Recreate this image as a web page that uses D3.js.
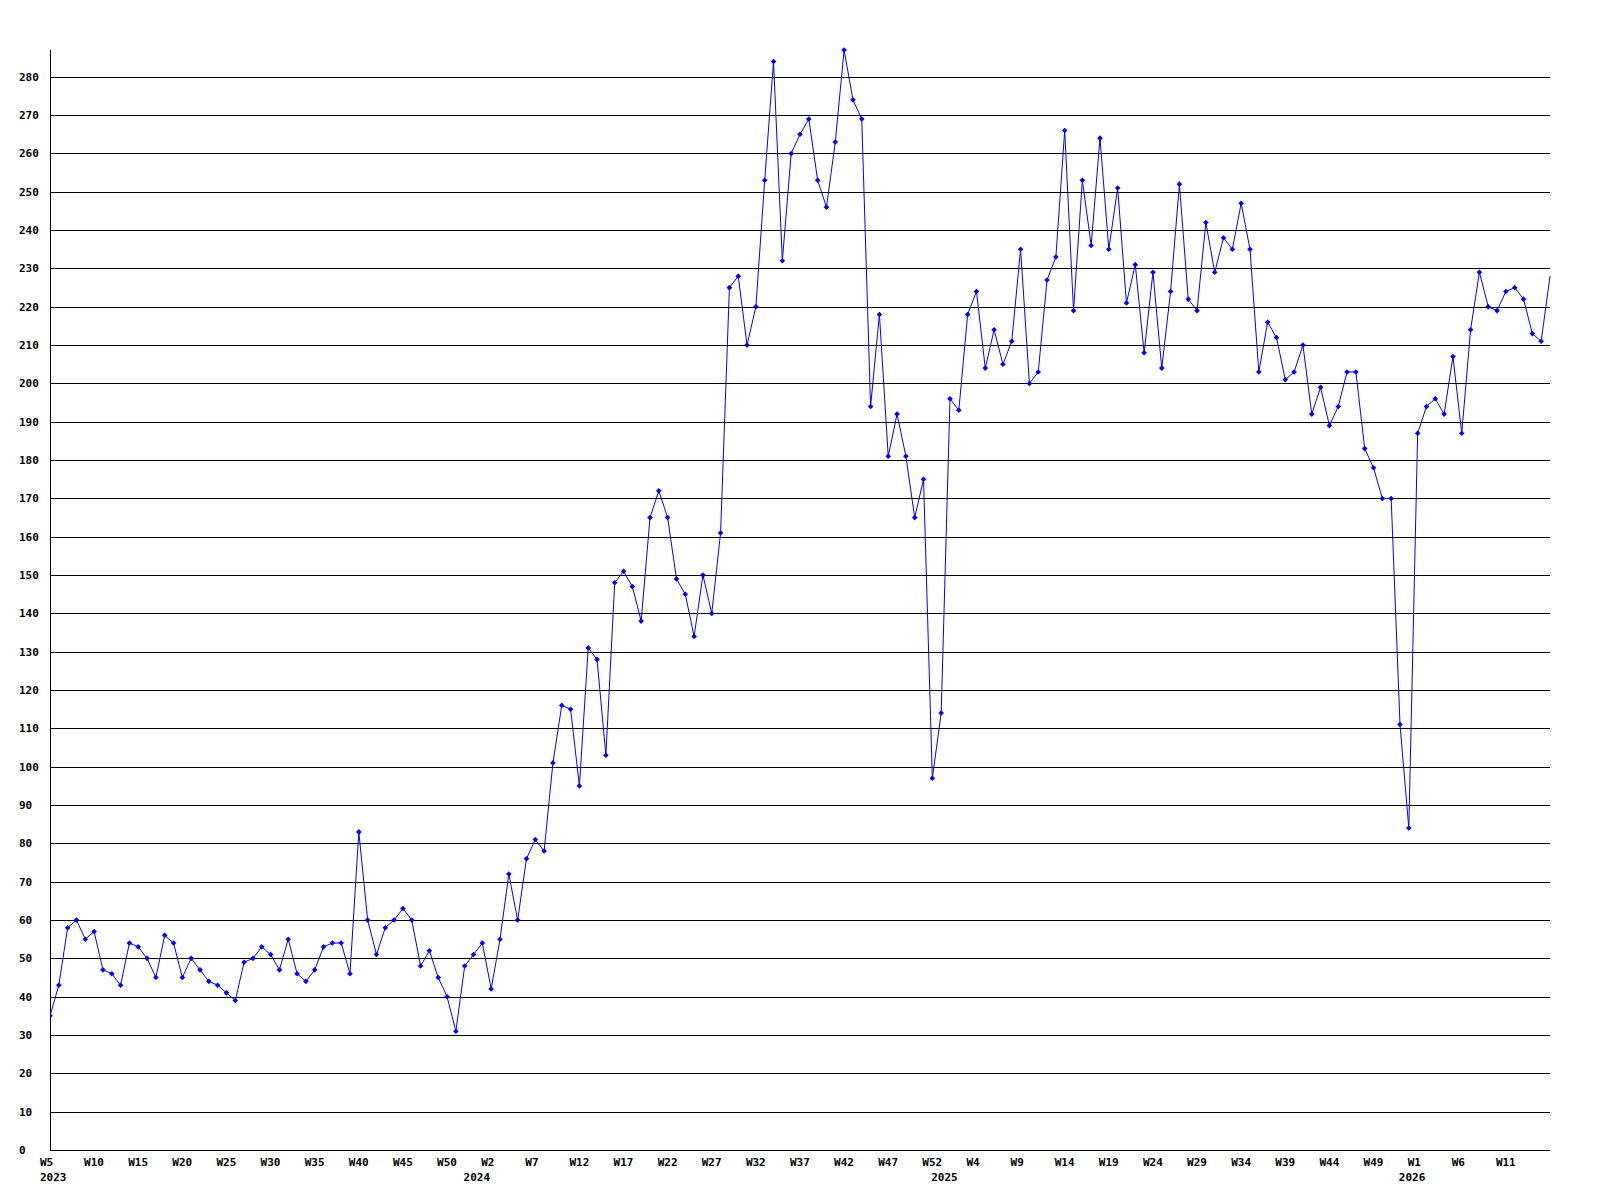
<!DOCTYPE html>
<html>
<head>
<meta charset="utf-8">
<script src="https://cdn.jsdelivr.net/npm/d3@7"></script>
<style>
  html, body { margin: 0; padding: 0; background: #ffffff; }
  svg { display: block; }
  text { font-family: "DejaVu Sans Mono", monospace; font-weight: bold; font-size: 11px; fill: #000; }
</style>
</head>
<body>
<svg id="chart" width="1600" height="1200"></svg>
<script>
// ---- data ----
// weekly series, one category per week (year, week number)
const yearSpans = [
  { year: 2023, first: 5, last: 52 },
  { year: 2024, first: 0, last: 52 },
  { year: 2025, first: 0, last: 52 },
  { year: 2026, first: 0, last: 16 }
];

const values = [
  35, 43, 58, 60, 55, 57, 47, 46, 43, 54, 53, 50, 45, 56, 54, 45, 50, 47, 44, 43,
  41, 39, 49, 50, 53, 51, 47, 55, 46, 44, 47, 53, 54, 54, 46, 83, 60, 51, 58, 60,
  63, 60, 48, 52, 45, 40, 31, 48, 51, 54, 42, 55, 72, 60, 76, 81, 78, 101, 116, 115,
  95, 131, 128, 103, 148, 151, 147, 138, 165, 172, 165, 149, 145, 134, 150, 140, 161, 225, 228, 210,
  220, 253, 284, 232, 260, 265, 269, 253, 246, 263, 287, 274, 269, 194, 218, 181, 192, 181, 165, 175,
  97, 114, 196, 193, 218, 224, 204, 214, 205, 211, 235, 200, 203, 227, 233, 266, 219, 253, 236, 264,
  235, 251, 221, 231, 208, 229, 204, 224, 252, 222, 219, 242, 229, 238, 235, 247, 235, 203, 216, 212,
  201, 203, 210, 192, 199, 189, 194, 203, 203, 183, 178, 170, 170, 111, 84, 187, 194, 196, 192, 207,
  187, 214, 229, 220, 219, 224, 225, 222, 213, 211, 228
];

const yTickValues = [0, 10, 20, 30, 40, 50, 60, 70, 80, 90, 100, 110, 120, 130, 140,
  150, 160, 170, 180, 190, 200, 210, 220, 230, 240, 250, 260, 270, 280];

const weekLabelEvery = 5;

// ---- categories ----
const categories = [];
yearSpans.forEach(s => {
  for (let w = s.first; w <= s.last; w++) categories.push({ key: s.year + "-W" + w, year: s.year, week: w });
});
const data = categories.map((c, i) => ({ key: c.key, year: c.year, week: c.week, value: values[i] }));

// ---- layout ----
const margin = { left: 50, right: 50, top: 50, bottom: 50 };
const W = 1600, H = 1200;
const x0 = margin.left, x1 = W - margin.right;   // 50 .. 1550
const y0 = H - margin.bottom, y1 = margin.top;    // 1150 .. 50

const svg = d3.select("#chart");

const x = d3.scalePoint().domain(data.map(d => d.key)).range([x0, x1]).padding(0);
const y = d3.scaleLinear().domain([0, d3.max(values)]).range([y0, y1]);

// gridlines
svg.append("g")
  .selectAll("line")
  .data(yTickValues.filter(v => v > 0))
  .join("line")
  .attr("x1", x0).attr("x2", x1)
  .attr("y1", d => Math.round(y(d)) + 0.5).attr("y2", d => Math.round(y(d)) + 0.5)
  .attr("stroke", "#000").attr("stroke-width", 1)
  .attr("shape-rendering", "crispEdges");

// y axis (line + labels)
const yAxis = d3.axisLeft(y).tickValues(yTickValues).tickSize(0).tickFormat(d3.format("d"));
const gy = svg.append("g").attr("transform", `translate(${x0 + 0.5},0)`).call(yAxis);
gy.select(".domain").attr("stroke", "#000").attr("shape-rendering", "crispEdges")
  .attr("d", `M0,${y1}V${Math.round(y0) + 0.5}`);
gy.selectAll(".tick").attr("transform", d => `translate(0,${Math.round(y(d)) + 0.5})`);
gy.selectAll(".tick text")
  .attr("x", 19 - (x0 + 0.5))
  .attr("text-anchor", "start")
  .attr("dy", "0.36em")
  .attr("font-family", null).attr("font-size", null);

// x axis line
svg.append("line")
  .attr("x1", x0).attr("x2", x1)
  .attr("y1", Math.round(y0) + 0.5).attr("y2", Math.round(y0) + 0.5)
  .attr("stroke", "#000").attr("shape-rendering", "crispEdges");

// x tick labels (every 5th week, not on the final point) and year labels (first week of each year)
const xl = svg.append("g");
xl.selectAll("text.wk")
  .data(data.filter((d, i) => i % weekLabelEvery === 0 && i < data.length - 1))
  .join("text")
  .attr("class", "wk")
  .attr("x", d => x(d.key) - 10)
  .attr("y", 1166)
  .text(d => "W" + d.week);
xl.selectAll("text.yr")
  .data(yearSpans.map(s => data.find(d => d.year === s.year)))
  .join("text")
  .attr("class", "yr")
  .attr("x", d => x(d.key) - 10)
  .attr("y", 1181)
  .text(d => d.year);

// clip to plot area
svg.append("clipPath").attr("id", "plot")
  .append("rect").attr("x", x0).attr("y", 0).attr("width", x1 - x0 + 1).attr("height", y0 + 1);

const plot = svg.append("g").attr("clip-path", "url(#plot)");

// series line
const line = d3.line().x(d => x(d.key)).y(d => y(d.value));
plot.append("path")
  .datum(data)
  .attr("d", line)
  .attr("fill", "none")
  .attr("stroke", "#0000ff")
  .attr("stroke-width", 1);

// markers (final point sits on the plot edge and shows no marker)
const diamond = r => `M0,${-r}L${r},0L0,${r}L${-r},0Z`;
plot.selectAll("path.mk")
  .data(data.slice(0, data.length - 1))
  .join("path")
  .attr("class", "mk")
  .attr("transform", d => `translate(${x(d.key)},${y(d.value)})`)
  .attr("d", diamond(2.8))
  .attr("fill", "#0000ff");
</script>
</body>
</html>
